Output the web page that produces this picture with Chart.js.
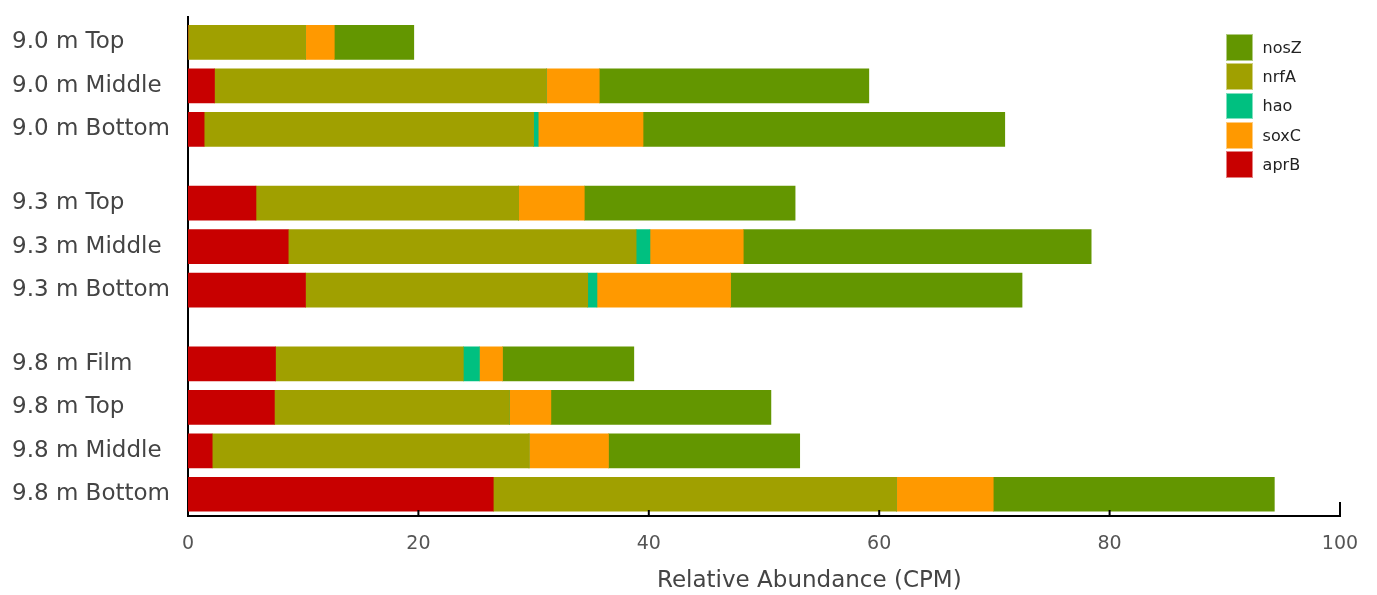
<!DOCTYPE html>
<html>
<head>
<meta charset="utf-8">
<script src="https://cdn.jsdelivr.net/npm/chart.js@4.4.1/dist/chart.umd.min.js"></script>
<style>
  body { margin: 0; background: #fff; }
  #wrap { position: relative; width: 1377px; height: 595px; }
  #legend { position: absolute; left: 1226px; top: 34px; font-family: 'DejaVu Sans', sans-serif; font-size: 16px; color: #222; }
  #legend .item { display: flex; align-items: center; height: 26.7px; margin-bottom: 2.6px; }
  #legend .box { width: 26.6px; height: 26.7px; margin-right: 10px; box-sizing: border-box; border: 1px solid rgba(255,255,255,0.5); }
  #xtitle { position: absolute; left: 657px; top: 566px; font-family: 'DejaVu Sans', sans-serif; font-size: 23px; color: #444; white-space: nowrap; }
</style>
</head>
<body>
<div id="wrap">
  <canvas id="chart" width="1377" height="595"></canvas>
  <div id="legend"></div>
  <div id="xtitle">Relative Abundance (CPM)</div>
</div>
<script>
// rows, top to bottom
const depths = ['9.0 m', '9.0 m', '9.0 m', '9.3 m', '9.3 m', '9.3 m', '9.8 m', '9.8 m', '9.8 m', '9.8 m'];
const samples = ['Top', 'Middle', 'Bottom', 'Top', 'Middle', 'Bottom', 'Film', 'Top', 'Middle', 'Bottom'];

const aprB = [0, 2.3, 1.4, 5.9, 8.7, 10.2, 7.6, 7.5, 2.1, 26.5];
const soxC = [2.5, 4.6, 9.1, 5.7, 8.1, 11.6, 2.0, 3.6, 6.9, 8.4];
const hao = [0, 0, 0.4, 0, 1.2, 0.8, 1.4, 0, 0, 0];
const nrfA = [10.2, 28.8, 28.6, 22.8, 30.2, 24.5, 16.3, 20.4, 27.5, 35.0];
const nosZ = [6.9, 23.4, 31.4, 18.3, 30.2, 25.3, 11.4, 19.1, 16.6, 24.4];

const xTicks = [0, 20, 40, 60, 80, 100];
const legendOrder = ['nosZ', 'nrfA', 'hao', 'soxC', 'aprB'];

const labels = depths.map((d, i) => d + ' ' + samples[i]);

// row positions: one unit per row, extra space between depth groups
let groupIdx = 0;
const rowPos = depths.map((d, i) => {
  if (i > 0 && d !== depths[i - 1]) groupIdx++;
  return i + 0.7 * groupIdx;
});

function series(vals) {
  return vals.map((v, i) => ({ x: v, y: rowPos[i] }));
}

// stack order left to right: aprB, nrfA, hao, soxC, nosZ
const datasets = [
  { label: 'aprB', data: series(aprB), backgroundColor: '#c80000' },
  { label: 'nrfA', data: series(nrfA), backgroundColor: '#a0a000' },
  { label: 'hao', data: series(hao), backgroundColor: '#00c080' },
  { label: 'soxC', data: series(soxC), backgroundColor: '#ff9900' },
  { label: 'nosZ', data: series(nosZ), backgroundColor: '#639600' },
];

const innerTicks = {
  id: 'innerTicks',
  afterDraw(chart) {
    const ctx = chart.ctx;
    const xs = chart.scales.x;
    const bottom = chart.chartArea.bottom;
    ctx.save();
    ctx.strokeStyle = '#000';
    ctx.lineWidth = 2;
    xs.ticks.forEach((t) => {
      if (t.value === 0) return;
      const px = xs.getPixelForValue(t.value);
      const len = t.value === xs.max ? 14 : 6;
      ctx.beginPath();
      ctx.moveTo(px, bottom);
      ctx.lineTo(px, bottom - len);
      ctx.stroke();
    });
    ctx.restore();
  },
};

const chart = new Chart(document.getElementById('chart').getContext('2d'), {
  type: 'bar',
  data: { datasets: datasets },
  plugins: [innerTicks],
  options: {
    responsive: false,
    animation: false,
    indexAxis: 'y',
    barThickness: 34,
    borderWidth: 0,
    layout: { padding: { left: 12, right: 37, top: 14, bottom: 0 } },
    plugins: { legend: { display: false }, tooltip: { enabled: false } },
    scales: {
      x: {
        type: 'linear',
        stacked: true,
        min: 0,
        max: 100,
        afterBuildTicks: (s) => { s.ticks = xTicks.map((v) => ({ value: v })); },
        afterFit: (s) => { s.height = 79; },
        grid: { display: false },
        border: { display: true, color: '#000', width: 2 },
        ticks: { padding: 9, color: '#555', font: { family: 'DejaVu Sans', size: 19 } },
      },
      y: {
        type: 'linear',
        stacked: true,
        reverse: true,
        offset: false,
        min: -0.59,
        max: 10.9,
        afterBuildTicks: (s) => { s.ticks = rowPos.map((v) => ({ value: v })); },
        afterFit: (s) => { s.width = 176; },
        grid: { display: false },
        border: { display: true, color: '#000', width: 2 },
        ticks: {
          crossAlign: 'far',
          color: '#444',
          font: { family: 'DejaVu Sans', size: 23 },
          callback: (v, i) => labels[i],
        },
      },
    },
  },
});

const legendEl = document.getElementById('legend');
legendOrder.forEach((name) => {
  const ds = datasets.find((d) => d.label === name);
  const item = document.createElement('div');
  item.className = 'item';
  item.innerHTML = '<span class="box" style="background:' + ds.backgroundColor + '"></span><span>' + ds.label + '</span>';
  legendEl.appendChild(item);
});
</script>
</body>
</html>
